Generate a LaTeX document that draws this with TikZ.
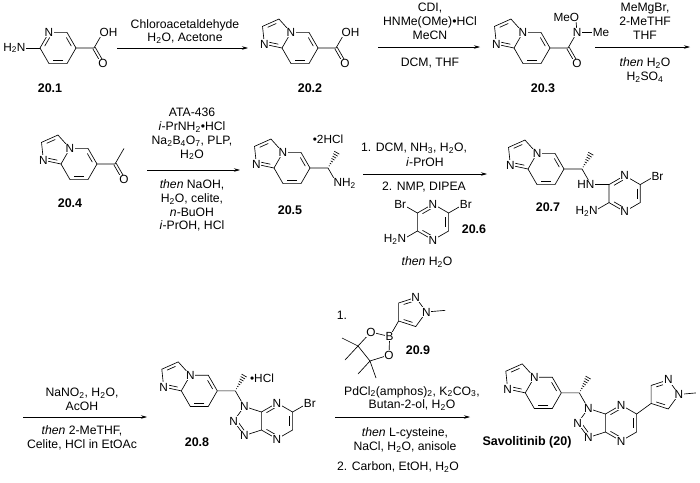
\documentclass[tikz,border=0pt]{standalone}
\usepackage{fontspec}
\setmainfont{Liberation Sans}
\usetikzlibrary{calc,arrows.meta}
\newcommand\dbl[4][0.2]{\draw[bond,shorten <=2.2pt,shorten >=2.2pt] ($(#2)!#1!(#4)$) -- ($(#3)!#1!(#4)$);}
\newcommand\dblc[2]{\draw[bond] ($(#1)!1.4pt!90:(#2)$) -- ($(#2)!1.4pt!-90:(#1)$);\draw[bond] ($(#1)!1.4pt!-90:(#2)$) -- ($(#2)!1.4pt!90:(#1)$);}
\newcommand\hashb[2]{\foreach \i in {0.14,0.28,...,1.0}{\pgfmathsetmacro\w{\i*3}\draw[bond] ($(#1)!\i!(#2)!\w pt!90:(#2)$) -- ($(#1)!\i!(#2)!\w pt!-90:(#2)$);}}
\tikzset{
 bond/.style={line width=0.65pt},
 atom/.style={fill=white,inner sep=0.7pt,font=\fontsize{11.8}{12}\selectfont},
 cpd/.style={font=\fontsize{12.5}{13}\selectfont\bfseries,inner sep=0pt},
 rg/.style={font=\fontsize{12.2}{13.8}\selectfont,inner sep=0pt,align=center},
 arr/.style={line width=0.65pt,-{Stealth[length=6pt,width=3.5pt]}},
 hexf/.pic={
  \foreach \k/\a in {0/0,1/60,2/120,3/180,4/240,5/300} \coordinate (-h\k) at (\a:18);
  \coordinate (-c) at (0,0);
  \draw[bond] (-h0)--(-h1)--(-h2)--(-h3)--(-h4)--(-h5)--cycle;},
 hexp/.pic={
  \coordinate (-t) at (270:18); \coordinate (-ur) at (330:18); \coordinate (-lr) at (30:18);
  \coordinate (-b) at (90:18); \coordinate (-ll) at (150:18); \coordinate (-ul) at (210:18);
  \coordinate (-c) at (0,0);
  \draw[bond] (-t)--(-ur)--(-lr)--(-b)--(-ll)--(-ul)--cycle;},
 imp/.pic={
  \foreach \k/\a in {0/0,1/60,2/120,3/180,4/240,5/300} \coordinate (-h\k) at (\a:18);
  \coordinate (-c) at (0,0);
  \coordinate (-P) at (210:27.98);
  \coordinate (-p1) at ($(-P)+(282:15.31)$);
  \coordinate (-p2) at ($(-P)+(210:15.31)$);
  \coordinate (-p3) at ($(-P)+(138:15.31)$);
  \draw[bond] (-h0)--(-h1)--(-h2)--(-h3)--(-h4)--(-h5)--cycle;
  \draw[bond] (-h4)--(-p1)--(-p2)--(-p3)--(-h3);
  \dbl{-h0}{-h5}{-c}\dbl{-h1}{-h2}{-c}
  \dbl[0.24]{-p1}{-p2}{-P}\dbl[0.24]{-p3}{-h3}{-P}
  \node[atom] (-n4) at (-h4) {N};
  \node[atom] (-n1) at (-p3) {N};},
 tzp/.pic={
  \coordinate (-t) at (270:18); \coordinate (-ur) at (330:18); \coordinate (-lr) at (30:18);
  \coordinate (-b) at (90:18); \coordinate (-ll) at (150:18); \coordinate (-ul) at (210:18);
  \coordinate (-c) at (0,0);
  \coordinate (-P) at (180:27.98);
  \coordinate (-q1) at ($(-P)+(252:15.31)$);
  \coordinate (-q2) at ($(-P)+(180:15.31)$);
  \coordinate (-q3) at ($(-P)+(108:15.31)$);
  \draw[bond] (-t)--(-ur)--(-lr)--(-b)--(-ll)--(-ul)--cycle;
  \draw[bond] (-ul)--(-q1)--(-q2)--(-q3)--(-ll);
  \dbl{-ul}{-t}{-c}\dbl{-ur}{-lr}{-c}\dbl{-ll}{-b}{-c}
  \dbl[0.24]{-q2}{-q3}{-P}
  \node[atom] (-nt) at (-t) {N};
  \node[atom] (-nb) at (-b) {N};
  \node[atom] (-n1) at (-q1) {N};
  \node[atom] (-n2) at (-q2) {N};
  \node[atom] (-n3) at (-q3) {N};}
}
\begin{document}
\begin{tikzpicture}[x=1pt,y=-1pt]
\useasboundingbox (0,0) rectangle (700,482);
% ---------- 20.1
\pic (m1) at (58,48) {hexf};
\dbl{m1-h4}{m1-h3}{m1-c}\dbl{m1-h1}{m1-h2}{m1-c}\dbl{m1-h0}{m1-h5}{m1-c}
\coordinate (m1-co) at ($(m1-h0)+(0:18)$);
\coordinate (m1-oh) at ($(m1-co)+(300:18)$);
\coordinate (m1-o) at ($(m1-co)+(60:18)$);
\coordinate (m1-nh) at ($(m1-h3)+(180:18)$);
\draw[bond] (m1-h0)--(m1-co)--(m1-oh); \dblc{m1-co}{m1-o}
\draw[bond] (m1-h3)--(m1-nh);
\node[atom] (m1-N) at (m1-h4) {N};
\node[atom,anchor=west,xshift=-4.3pt] (m1-OH) at (m1-oh) {OH};
\node[atom] (m1-O) at (m1-o) {O};
\node[atom,anchor=east,xshift=4.3pt] (m1-NH2) at (m1-nh) {H\textsubscript{2}N};
\node[cpd] (l1) at (50,88) {20.1};
% ---------- arrow 1
\coordinate (a1s) at (117,48); \coordinate (a1e) at (248,48);
\draw[arr] (a1s)--(a1e);
\node[rg] (r1) at (185,31.5) {Chloroacetaldehyde\\H\textsubscript{2}O, Acetone};
% ---------- 20.2
\pic (m2) at (300,48) {imp};
\coordinate (m2-co) at ($(m2-h0)+(0:18)$);
\coordinate (m2-oh) at ($(m2-co)+(300:18)$);
\coordinate (m2-o) at ($(m2-co)+(60:18)$);
\draw[bond] (m2-h0)--(m2-co)--(m2-oh); \dblc{m2-co}{m2-o}
\node[atom,anchor=west,xshift=-4.3pt] (m2-OH) at (m2-oh) {OH};
\node[atom] (m2-O) at (m2-o) {O};
\node[cpd] (l2) at (310,88) {20.2};
% ---------- arrow 2
\coordinate (a2s) at (378,47); \coordinate (a2e) at (480,47);
\draw[arr] (a2s)--(a2e);
\node[rg] (r2a) at (430,21.3) {CDI,\\HNMe(OMe)•HCl\\MeCN};
\node[rg] (r2b) at (430,63) {DCM, THF};
% ---------- 20.3
\pic (m3) at (532,48) {imp};
\coordinate (m3-co) at ($(m3-h0)+(0:18)$);
\coordinate (m3-n) at ($(m3-co)+(300:18)$);
\coordinate (m3-o) at ($(m3-co)+(60:18)$);
\coordinate (m3-om) at ($(m3-n)+(265:15)$);
\coordinate (m3-me) at ($(m3-n)+(0:16)$);
\draw[bond] (m3-h0)--(m3-co)--(m3-n)--(m3-om); \draw[bond] (m3-n)--(m3-me); \dblc{m3-co}{m3-o}
\node[atom] (m3-N) at (m3-n) {N};
\node[atom] (m3-O) at (m3-o) {O};
\node[atom,anchor=east,xshift=4.3pt] (m3-MeO) at (m3-om) {MeO};
\node[atom,anchor=west,xshift=-1pt] (m3-Me) at (m3-me) {Me};
\node[cpd] (l3) at (543,88) {20.3};
% ---------- arrow 3
\coordinate (a3s) at (595,47); \coordinate (a3e) at (690,47);
\draw[arr] (a3s)--(a3e);
\node[rg] (r3a) at (645,21.3) {MeMgBr,\\2-MeTHF\\THF};
\node[rg] (r3b) at (645,70) {\textit{then} H\textsubscript{2}O\\H\textsubscript{2}SO\textsubscript{4}};
% ---------- 20.4
\pic (m4) at (79,164) {imp};
\coordinate (m4-co) at ($(m4-h0)+(0:18)$);
\coordinate (m4-o) at ($(m4-co)+(60:18)$);
\coordinate (m4-me) at ($(m4-co)+(300:18)$);
\draw[bond] (m4-h0)--(m4-co)--(m4-me); \dblc{m4-co}{m4-o}
\node[atom] (m4-O) at (m4-o) {O};
\node[cpd] (l4) at (70,203) {20.4};
% ---------- arrow 4
\coordinate (a4s) at (147,170); \coordinate (a4e) at (240,170);
\draw[arr] (a4s)--(a4e);
\node[rg] (r4a) at (192,134) {ATA-436\\\textit{i}-PrNH\textsubscript{2}•HCl\\Na\textsubscript{2}B\textsubscript{4}O\textsubscript{7}, PLP,\\H\textsubscript{2}O};
\node[rg] (r4b) at (192,205.5) {\textit{then} NaOH,\\H\textsubscript{2}O, celite,\\\textit{n}-BuOH\\\textit{i}-PrOH, HCl};
% ---------- 20.5
\pic (m5) at (292,168) {imp};
\coordinate (m5-ch) at ($(m5-h0)+(0:18)$);
\coordinate (m5-nh) at ($(m5-ch)+(60:18)$);
\coordinate (m5-me) at ($(m5-ch)+(300:18)$);
\draw[bond] (m5-h0)--(m5-ch)--(m5-nh); \hashb{m5-ch}{m5-me}
\node[atom,anchor=west,xshift=-4.3pt] (m5-NH2) at (m5-nh) {NH\textsubscript{2}};
\node[atom] (m5-hcl) at (328,139) {•2HCl};
\node[cpd] (l5) at (290,210) {20.5};
% ---------- arrow 5
\coordinate (a5s) at (363,174); \coordinate (a5e) at (487,174);
\draw[arr] (a5s)--(a5e);
\node[rg] (r5a) at (414,148) {1. DCM, NH\textsubscript{3}, H\textsubscript{2}O,};
\node[rg] (r5b) at (425,162) {\textit{i}-PrOH};
\node[rg] (r5c) at (424,187) {2. NMP, DIPEA};
\node[rg] (r5d) at (427,262) {\textit{then} H\textsubscript{2}O};
% ---------- 20.6
\pic (m6) at (433,222) {hexp};
\dbl{m6-ul}{m6-t}{m6-c}\dbl{m6-ur}{m6-lr}{m6-c}\dbl{m6-ll}{m6-b}{m6-c}
\coordinate (m6-br1) at ($(m6-ul)+(210:17)$);
\coordinate (m6-br2) at ($(m6-ur)+(330:17)$);
\coordinate (m6-nh) at ($(m6-ll)+(150:17)$);
\draw[bond] (m6-ul)--(m6-br1); \draw[bond] (m6-ur)--(m6-br2); \draw[bond] (m6-ll)--(m6-nh);
\node[atom] (m6-Nt) at (m6-t) {N};
\node[atom] (m6-Nb) at (m6-b) {N};
\node[atom,anchor=east,xshift=4.3pt] (m6-Br1) at (m6-br1) {Br};
\node[atom,anchor=west,xshift=-4.3pt] (m6-Br2) at (m6-br2) {Br};
\node[atom,anchor=east,xshift=4.3pt] (m6-NH2) at (m6-nh) {H\textsubscript{2}N};
\node[cpd] (l6) at (474,229) {20.6};
% ---------- 20.7
\pic (m7) at (546,169) {imp};
\coordinate (m7-ch) at ($(m7-h0)+(0:18)$);
\coordinate (m7-nh) at ($(m7-ch)+(60:18)$);
\coordinate (m7-me) at ($(m7-ch)+(300:18)$);
\draw[bond] (m7-h0)--(m7-ch)--(m7-nh); \hashb{m7-ch}{m7-me}
\pic (m7p) at ($(m7-nh)+(18,0)+(15.59,9)$) {hexp};
\dbl{m7p-ul}{m7p-t}{m7p-c}\dbl{m7p-ur}{m7p-lr}{m7p-c}\dbl{m7p-ll}{m7p-b}{m7p-c}
\coordinate (m7-br) at ($(m7p-ur)+(330:17)$);
\coordinate (m7-nh2) at ($(m7p-ll)+(150:17)$);
\draw[bond] (m7-nh)--(m7p-ul); \draw[bond] (m7p-ur)--(m7-br); \draw[bond] (m7p-ll)--(m7-nh2);
\node[atom,anchor=east,xshift=4.3pt] (m7-HN) at (m7-nh) {HN};
\node[atom] (m7-Nt) at (m7p-t) {N};
\node[atom] (m7-Nb) at (m7p-b) {N};
\node[atom,anchor=west,xshift=-4.3pt] (m7-Br) at (m7-br) {Br};
\node[atom,anchor=east,xshift=4.3pt] (m7-NH2) at (m7-nh2) {H\textsubscript{2}N};
\node[cpd] (l7) at (548,207) {20.7};
% ---------- arrow 6
\coordinate (a6s) at (23,417); \coordinate (a6e) at (147,417);
\draw[arr] (a6s)--(a6e);
\node[rg] (r6a) at (82,399.5) {NaNO\textsubscript{2}, H\textsubscript{2}O,\\AcOH};
\node[rg] (r6b) at (82,438) {\textit{then} 2-MeTHF,\\Celite, HCl in EtOAc};
% ---------- 20.8
\pic (t8) at (277,421) {tzp};
\coordinate (m8-ch) at ($(t8-q1)+(240:18)$);
\pic (m8) at ($(m8-ch)+(-36,0)$) {imp};
\coordinate (m8-me) at ($(m8-ch)+(300:18)$);
\coordinate (m8-br) at ($(t8-ur)+(330:17)$);
\draw[bond] (m8-h0)--(m8-ch)--(t8-n1); \hashb{m8-ch}{m8-me}
\draw[bond] (t8-ur)--(m8-br);
\node[atom,anchor=west,xshift=-4.3pt] (m8-Br) at (m8-br) {Br};
\node[atom] (m8-hcl) at (262,378) {•HCl};
\node[cpd] (l8) at (197,442) {20.8};
% ---------- 20.9 + arrow 7
\node[rg] (r7n) at (342,315) {1.};
\coordinate (z9) at (411,312);
\coordinate (p9-c3) at ($(z9)+(216:15.31)$);
\coordinate (p9-n2) at ($(z9)+(288:15.31)$);
\coordinate (p9-n1) at ($(z9)+(0:15.31)$);
\coordinate (p9-c5) at ($(z9)+(72:15.31)$);
\coordinate (p9-c4) at ($(z9)+(144:15.31)$);
\coordinate (p9-me) at ($(p9-n1)+(-5:19)$);
\coordinate (b9) at ($(p9-c4)+(120:18)$);
\coordinate (o9a) at (371,332); \coordinate (k9a) at (358,346);
\coordinate (k9b) at (370,361); \coordinate (o9b) at (389,355);
\draw[bond] (p9-c3)--(p9-n2)--(p9-n1)--(p9-c5)--(p9-c4)--cycle;
\dbl[0.24]{p9-c3}{p9-n2}{z9}\dbl[0.24]{p9-c5}{p9-c4}{z9}
\draw[bond] (p9-n1)--(p9-me); \draw[bond] (p9-c4)--(b9);
\draw[bond] (b9)--(o9a)--(k9a)--(k9b)--(o9b)--cycle;
\coordinate (k9m1) at (342,338); \coordinate (k9m2) at (345,360);
\coordinate (k9m3) at (358,374); \coordinate (k9m4) at (376,378);
\draw[bond] (k9a)--(k9m1); \draw[bond] (k9a)--(k9m2);
\draw[bond] (k9b)--(k9m3); \draw[bond] (k9b)--(k9m4);
\node[atom] (p9-N2) at (p9-n2) {N};
\node[atom] (p9-N1) at (p9-n1) {N};
\node[atom] (B9) at (b9) {B};
\node[atom] (O9a) at (o9a) {O};
\node[atom] (O9b) at (o9b) {O};
\node[cpd] (l9) at (418,350) {20.9};
\coordinate (a7s) at (335,417); \coordinate (a7e) at (470,417);
\draw[arr] (a7s)--(a7e);
\node[rg] (r7a) at (412,398.5) {PdCl\textsubscript{2}(amphos)\textsubscript{2}, K\textsubscript{2}CO\textsubscript{3},\\Butan-2-ol, H\textsubscript{2}O};
\node[rg] (r7b) at (405,440) {\textit{then} L-cysteine,\\NaCl, H\textsubscript{2}O, anisole};
\node[rg,anchor=west] (r7c) at (337,467) {2. Carbon, EtOH, H\textsubscript{2}O};
% ---------- Savolitinib
\pic (t0) at (621,423) {tzp};
\coordinate (m0-ch) at ($(t0-q1)+(240:18)$);
\pic (m0) at ($(m0-ch)+(-36,0)$) {imp};
\coordinate (m0-me) at ($(m0-ch)+(300:18)$);
\draw[bond] (m0-h0)--(m0-ch)--(t0-n1); \hashb{m0-ch}{m0-me}
\coordinate (z0-c4) at ($(t0-ur)+(324:18)$);
\coordinate (z0) at ($(z0-c4)+(324:15.31)$);
\coordinate (z0-c3) at ($(z0)+(216:15.31)$);
\coordinate (z0-n2) at ($(z0)+(288:15.31)$);
\coordinate (z0-n1) at ($(z0)+(0:15.31)$);
\coordinate (z0-c5) at ($(z0)+(72:15.31)$);
\coordinate (z0-me) at ($(z0-n1)+(355:17)$);
\draw[bond] (t0-ur)--(z0-c4);
\draw[bond] (z0-c4)--(z0-c3)--(z0-n2)--(z0-n1)--(z0-c5)--cycle;
\dbl[0.24]{z0-c3}{z0-n2}{z0}\dbl[0.24]{z0-c5}{z0-c4}{z0}
\draw[bond] (z0-n1)--(z0-me);
\node[atom] (z0-N2) at (z0-n2) {N};
\node[atom] (z0-N1) at (z0-n1) {N};
\node[cpd,fill=white,inner sep=1pt] (l0) at (527,442) {Savolitinib (20)};
\end{tikzpicture}
\end{document}
